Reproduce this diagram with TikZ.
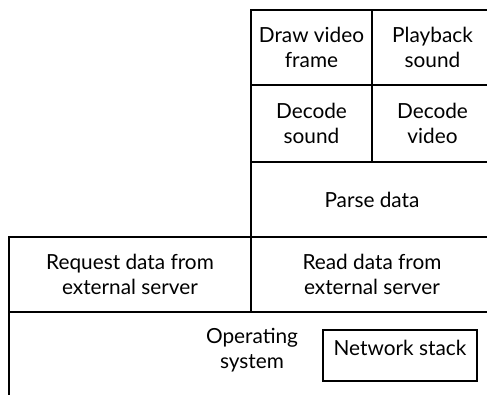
\documentclass[tikz,border=0pt]{standalone}
\usepackage{fontspec}
\setmainfont{Lato}
\usepackage{tikz}
\usetikzlibrary{positioning}

\begin{document}
\begin{tikzpicture}[x=1pt,y=-1pt,
        blk/.style={draw,line width=1.3pt,outer sep=0pt,inner sep=0pt,align=center,
            font=\fontsize{20.8}{25}\selectfont}]
        \useasboundingbox (0,0) rectangle (487,394);
        \clip (0,0) rectangle (487,394);

        \node[blk,minimum width=121pt,minimum height=75pt,anchor=north west] (draw) at (251,10) {Draw video\\frame};
        \node[blk,minimum width=121pt,minimum height=75pt] (play) [right=0pt of draw] {Playback\\sound};
        \node[blk,minimum width=121pt,minimum height=77pt] (dsound) [below=0pt of draw] {Decode\\sound};
        \node[blk,minimum width=121pt,minimum height=77pt] (dvideo) [below=0pt of play] {Decode\\video};
        \node[blk,minimum width=242pt,minimum height=75pt] (parse) [below right=0pt and 0pt of dsound.south west] {Parse data};
        \node[blk,minimum width=242pt,minimum height=75pt] (read) [below=0pt of parse] {Read data from\\external server};
        \node[blk,minimum width=242pt,minimum height=75pt] (req) [left=0pt of read] {Request data from\\external server};
        \node[blk,minimum width=500pt,minimum height=110pt] (os) [below right=0pt and 0pt of req.south west] {};

        \node[font=\fontsize{20.8}{25}\selectfont,align=center] (ostext) at (252,350) {Operating\\system};
        \node[blk,minimum width=154pt,inner sep=3pt,text height=22pt,text depth=23pt,anchor=north west] (net) at (323,330) {Network stack};
    \end{tikzpicture}
\end{document}
